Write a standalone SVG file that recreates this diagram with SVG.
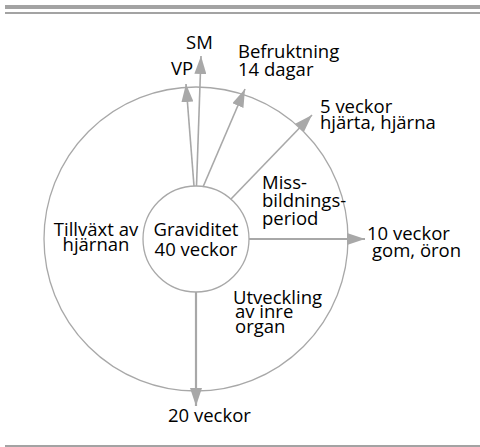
<svg xmlns="http://www.w3.org/2000/svg" width="480" height="447" viewBox="0 0 480 447">
<style>
.bar{fill:#a3a3a3}
.ring{fill:none;stroke:#a8a8a8;stroke-width:1.3}
.arr{fill:none;stroke:#a8a8a8;stroke-width:1.6;marker-end:url(#ah)}
.arr2{fill:none;stroke:#a8a8a8;stroke-width:2.2;marker-end:url(#ah)}
text{font-family:"Open Sans","Noto Sans","Liberation Sans",sans-serif;font-size:18.5px;fill:#000}
.c{text-anchor:middle}
</style>
<defs>
<marker id="ah" viewBox="0 0 18 12" refX="18" refY="6" markerWidth="18" markerHeight="12" markerUnits="userSpaceOnUse" orient="auto">
<path d="M0,0 L18,6 L0,12 z" fill="#a8a8a8"/>
</marker>
</defs>
<rect class="bar" x="5" y="5" width="475" height="4"/>
<rect class="bar" x="5" y="12" width="475" height="2"/>
<rect class="bar" x="5" y="445" width="475" height="2"/>
<g id="outer"><circle class="ring" cx="196" cy="239" r="152"/></g>
<g id="connectors">
<line class="arr" x1="194" y1="186" x2="186" y2="84"/>
<line class="arr" x1="196.5" y1="186" x2="201" y2="56"/>
<line class="arr" x1="203" y1="187" x2="245" y2="89"/>
<line class="arr" x1="231" y1="199" x2="312" y2="115"/>
<line class="arr2" x1="249" y1="239" x2="365" y2="239"/>
<line class="arr2" x1="196" y1="292" x2="196" y2="406"/>
</g>
<g id="center"><circle class="ring" cx="196" cy="239" r="53" fill="#fff"/>
<text class="c" x="196" y="236">Graviditet</text><text class="c" x="196" y="256">40 veckor</text></g>
<g id="sm"><text x="186" y="49">SM</text></g>
<g id="vp"><text x="171" y="75">VP</text></g>
<g id="befruktning"><text x="238" y="58">Befruktning</text><text x="238" y="76">14 dagar</text></g>
<g id="v5"><text x="320" y="113">5 veckor</text><text x="320" y="129">hjärta, hjärna</text></g>
<g id="miss"><text x="262" y="189">Miss-</text><text x="262" y="207">bildnings-</text><text x="262" y="225">period</text></g>
<g id="v10"><text x="367" y="240">10 veckor</text><text x="372" y="257">gom, öron</text></g>
<g id="tillvaxt"><text class="c" x="96" y="236">Tillväxt av</text><text class="c" x="96" y="251">hjärnan</text></g>
<g id="utveckling"><text x="233" y="304">Utveckling</text><text x="235" y="318">av inre</text><text x="235" y="333">organ</text></g>
<g id="v20"><text x="168" y="422">20 veckor</text></g>
</svg>
